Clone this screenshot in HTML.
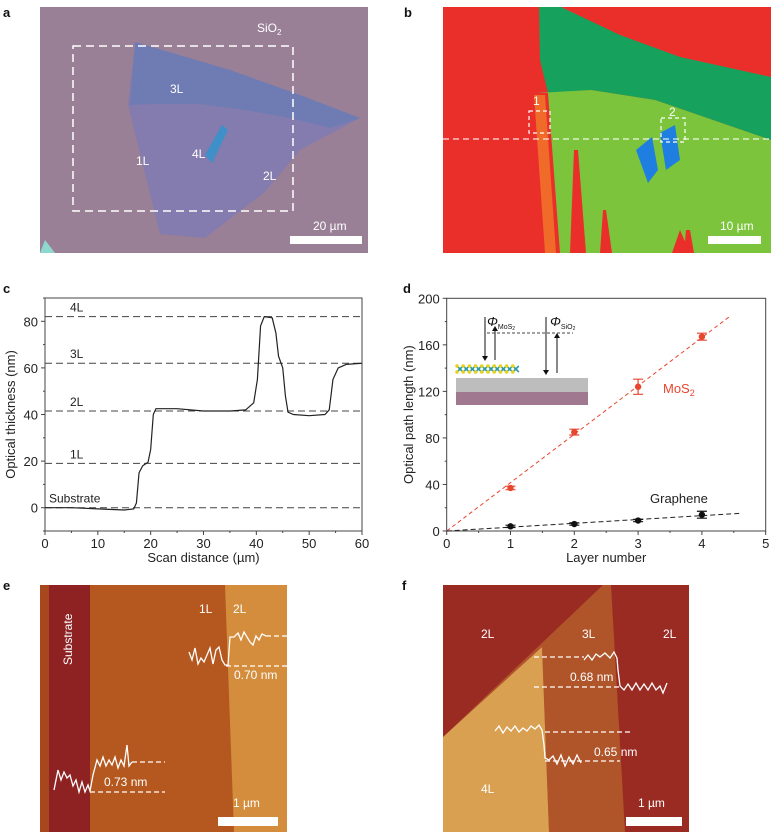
<!DOCTYPE html>
<html><head><meta charset="utf-8"><style>
html,body{margin:0;padding:0;background:#fff;}
svg{display:block;font-family:"Liberation Sans",sans-serif;}
</style></head><body>
<svg id="fig" width="771" height="832" viewBox="0 0 771 832" xmlns="http://www.w3.org/2000/svg">
<g font-weight="bold" font-size="13" fill="#111">
<text x="3" y="17">a</text><text x="404" y="17">b</text>
<text x="3" y="293">c</text><text x="403" y="293">d</text>
<text x="3" y="590">e</text><text x="402" y="590">f</text>
</g>

<!-- Panel a -->
<g>
<rect x="40" y="7" width="328" height="246" fill="#9a8096"/>
<polygon points="135,42 128,105 160,234 205,238 265,192 300,150 360,118 300,95 230,70" fill="#847bae"/>
<polygon points="135,42 230,70 300,95 360,118 330,128 290,118 245,110 200,104 155,104 130,105" fill="#6f7cb4"/>
<polygon points="205,155 222,125 228,130 212,163" fill="#3f8fc8"/>
<polygon points="40,253 45,240 55,253" fill="#8fd8d0"/>
<rect x="73" y="46" width="220" height="165" fill="none" stroke="#fff" stroke-width="1.5" stroke-dasharray="8,5"/>
<g fill="#fff" font-size="12">
<text x="257" y="32">SiO<tspan font-size="8" dy="3">2</tspan></text>
<text x="170" y="93">3L</text><text x="136" y="165">1L</text><text x="192" y="158">4L</text><text x="263" y="180">2L</text>
<text x="313" y="230">20 µm</text>
</g>
<rect x="290" y="236" width="72" height="8" fill="#fff"/>
</g>

<!-- Panel b -->
<g>
<rect x="443" y="7" width="328" height="246" fill="#ea2f2a"/>
<polygon points="539,7 561,7 620,35 680,57 771,77 771,140 655,100 591,90 548,93 540,60" fill="#16a25c"/>
<polygon points="537,93 591,90 655,100 771,140 771,253 690,253 680,230 672,253 560,253 548,93" fill="#7cc43c"/>
<polygon points="574,150 578,150 586,253 570,253" fill="#ea2f2a"/>
<polygon points="603,210 606,210 612,253 600,253" fill="#ea2f2a"/>
<polygon points="686,230 690,230 694,253 684,253" fill="#ea2f2a"/>
<polygon points="534,95 545,95 556,253 545,253" fill="#f06a2a"/>
<polygon points="636,150 652,137 658,170 648,183" fill="#1f7fe0"/>
<polygon points="660,133 675,125 680,160 666,170" fill="#1f7fe0"/>
<line x1="443" y1="139" x2="771" y2="139" stroke="#fff" stroke-width="1.2" stroke-dasharray="6,4" opacity="0.85"/>
<rect x="529" y="111" width="21" height="22" fill="none" stroke="#fff" stroke-width="1.2" stroke-dasharray="4,3"/>
<rect x="661" y="118" width="24" height="24" fill="none" stroke="#fff" stroke-width="1.2" stroke-dasharray="4,3"/>
<g fill="#fff" font-size="12"><text x="533" y="105">1</text><text x="669" y="116">2</text><text x="720" y="230">10 µm</text></g>
<rect x="708" y="236" width="53" height="8" fill="#fff"/>
</g>

<g id="chartC"></g>
<g id="chartD"></g>

<!-- Panel e -->
<g>
<rect x="40" y="585" width="247" height="247" fill="#b4581f"/>
<rect x="40" y="585" width="10" height="247" fill="#a8461e"/>
<rect x="49" y="585" width="41" height="247" fill="#8e2222"/>
<polygon points="225,585 287,585 287,832 234,832" fill="#d48d3c"/>
<text transform="translate(72,665) rotate(-90)" fill="#fff" font-size="12">Substrate</text>
<g fill="#fff" font-size="12"><text x="199" y="613">1L</text><text x="233" y="613">2L</text><text x="234" y="679">0.70 nm</text><text x="104" y="786">0.73 nm</text><text x="233" y="807">1 µm</text></g>
<polyline points="189,652 192,660 195,648 198,664 201,658 204,662 207,655 210,648 213,664 216,650 219,647 222,660 225,665 228,665 230,637 234,637 238,633 241,640 244,632 247,637 250,642 253,645 256,636 259,640 262,634 266,636" fill="none" stroke="#fff" stroke-width="1.3"/>
<path d="M266,636 H287 M226,666 H287 M132,762 H165 M90,792 H165" stroke="#fff" stroke-width="1.3" stroke-dasharray="5,3"/>
<polyline points="54,790 58,770 61,780 64,772 67,778 70,775 73,786 76,780 79,792 82,782 85,792 88,785 90,791 93,775 97,760 100,766 103,757 106,766 109,760 112,765 115,757 118,768 121,760 124,766 127,745 129,766 132,762" fill="none" stroke="#fff" stroke-width="1.3"/>
<rect x="218" y="817" width="60" height="9" fill="#fff"/>
</g>

<!-- Panel f -->
<g>
<rect x="443" y="585" width="246" height="247" fill="#9a2b22"/>
<polygon points="603,585 611,585 625,832 549,832 542,647 443,737" fill="#b0542a"/>
<polygon points="443,737 542,647 549,832 443,832" fill="#d9a052"/>
<g fill="#fff" font-size="12"><text x="481" y="638">2L</text><text x="582" y="638">3L</text><text x="663" y="638">2L</text><text x="481" y="793">4L</text><text x="570" y="681">0.68 nm</text><text x="594" y="756">0.65 nm</text><text x="638" y="807">1 µm</text></g>
<polyline points="584,660 588,655 592,660 596,654 600,657 605,653 610,658 614,652 617,658 618,670 620,686 624,690 628,684 632,690 636,683 640,690 644,684 648,690 652,683 656,690 660,686 663,693 667,683" fill="none" stroke="#fff" stroke-width="1.3"/>
<path d="M534,657 H584 M534,687 H622 M545,732 H632 M545,761 H620" stroke="#fff" stroke-width="1.3" stroke-dasharray="5,3"/>
<polyline points="495,731 499,726 503,733 507,727 511,731 515,726 519,732 523,728 527,731 531,726 535,729 539,725 542,730 544,745 545,758 549,760 553,756 557,764 561,755 565,766 569,757 573,764 577,755 581,763" fill="none" stroke="#fff" stroke-width="1.3"/>
<rect x="626" y="817" width="56" height="9" fill="#fff"/>
</g>
</svg>
<script>
// ---------- Panel c data ----------
const cScanX = [0,5,10,15,16.8,17.3,17.8,18.5,19.5,20,20.5,21,25,30,35,38,39.5,40.2,40.8,41.5,43,43.7,44.2,45,45.5,46,47,50,53,53.8,54.5,55.5,57,60];
const cThick = [0,0,-0.5,-1,-0.5,2,15,18,19.5,25,40,42.5,42.5,41.5,41.5,42,45,55,78,82,81.5,75,65,60,48,41,40,39.5,40,42,55,60,61.5,62];
const cRefValues = [0,19,41.5,62,82];
const cRefLabels = ["Substrate","1L","2L","3L","4L"];
const cXTicks = [0,10,20,30,40,50,60];
const cYTicks = [0,20,40,60,80];
// ---------- Panel d data ----------
const dLayers = [1,2,3,4];
const dMoS2 = [37,85,124,167];
const dMoS2Err = [1.5,2.5,6.5,3];
const dGraphene = [4,6,9,14];
const dGrapheneErr = [1,1,1,3];
const dXTicks = [0,1,2,3,4,5];
const dYTicks = [0,40,80,120,160,200];

const NS="http://www.w3.org/2000/svg";
function mk(parent,tag,attrs,text){const e=document.createElementNS(NS,tag);for(const k in attrs)e.setAttribute(k,attrs[k]);if(text!==undefined)e.textContent=text;parent.appendChild(e);return e;}

(function(){
const g=document.getElementById('chartC');
const L=45,R=362,T=298,B=531;
const xs=v=>L+(v-0)*(R-L)/60;
const ys=v=>B-(v+10)*(B-T)/100;
const frame=mk(g,'rect',{x:L,y:T,width:R-L,height:B-T,fill:'none',stroke:'#444','stroke-width':1});


for(let v=0;v<=60;v+=5){const big=v%10===0;mk(g,'line',{x1:xs(v),x2:xs(v),y1:B,y2:B+(big?4:2),stroke:'#444'});}
for(let v=-10;v<=90;v+=10){const big=v%20===0;mk(g,'line',{x1:L,x2:L-(big?4:2),y1:ys(v),y2:ys(v),stroke:'#444'});}
cXTicks.forEach(v=>{const t=mk(g,'text',{x:xs(v),y:B+17,'text-anchor':'middle','font-size':13,fill:'#222'},String(v));});
cYTicks.forEach(v=>{const t=mk(g,'text',{x:L-7,y:ys(v)+5,'text-anchor':'end','font-size':13,fill:'#222'},String(v));});
cRefValues.forEach((v,i)=>{const ln=mk(g,'line',{x1:L,x2:R,y1:ys(v),y2:ys(v),stroke:'#444','stroke-dasharray':'7,4','stroke-width':1});
const t=mk(g,'text',{x:i===0?L+4:L+25,y:ys(v)-5,'font-size':12,fill:'#222'},cRefLabels[i]);});
const pts=cScanX.map((x,i)=>xs(x)+','+ys(cThick[i])).join(' ');
const pl=mk(g,'polyline',{points:pts,fill:'none',stroke:'#222','stroke-width':1.2,'stroke-linejoin':'round'});


const xt=mk(g,'text',{x:(L+R)/2,y:B+31,'text-anchor':'middle','font-size':13,fill:'#222'},'Scan distance (µm)');

const yt=mk(g,'text',{transform:`translate(15,${(T+B)/2}) rotate(-90)`,'text-anchor':'middle','font-size':13,fill:'#222'},'Optical thickness (nm)');

})();

(function(){
const g=document.getElementById('chartD');
const L=446.7,R=765.7,T=298.3,B=531;
const xs=v=>L+v*(R-L)/5;
const ys=v=>B-v*(B-T)/200;
const frame=mk(g,'rect',{x:L,y:T,width:R-L,height:B-T,fill:'none',stroke:'#444','stroke-width':1});


for(let v=0;v<=5.001;v+=0.5){const big=Math.abs(v-Math.round(v))<1e-6;mk(g,'line',{x1:xs(v),x2:xs(v),y1:B,y2:B+(big?4:2),stroke:'#444'});}
for(let v=0;v<=200;v+=20){const big=v%40===0;mk(g,'line',{x1:L,x2:L-(big?4:2),y1:ys(v),y2:ys(v),stroke:'#444'});}
dXTicks.forEach(v=>{const t=mk(g,'text',{x:xs(v),y:B+17,'text-anchor':'middle','font-size':13,fill:'#222'},String(v));});
dYTicks.forEach(v=>{const t=mk(g,'text',{x:L-7,y:ys(v)+5,'text-anchor':'end','font-size':13,fill:'#222'},String(v));});
const sM=dMoS2.reduce((a,v,i)=>a+v*dLayers[i],0)/dLayers.reduce((a,v)=>a+v*v,0);
const sG=dGraphene.reduce((a,v,i)=>a+v*dLayers[i],0)/dLayers.reduce((a,v)=>a+v*v,0);
const fm=mk(g,'line',{x1:xs(0),y1:ys(0),x2:xs(4.45),y2:ys(4.45*sM),stroke:'#e8452f','stroke-dasharray':'4,3','stroke-width':1});

const fg=mk(g,'line',{x1:xs(0),y1:ys(0),x2:xs(4.6),y2:ys(4.6*sG),stroke:'#222','stroke-dasharray':'5,3','stroke-width':1});

function series(vals,errs,color,name){vals.forEach((v,i)=>{const x=xs(dLayers[i]),y=ys(v),e=errs[i]*(B-T)/200;
const eb=mk(g,'path',{d:`M${x},${y-e}V${y+e}M${x-5},${y-e}H${x+5}M${x-5},${y+e}H${x+5}`,stroke:color,'stroke-width':1.2,fill:'none'});

const c=mk(g,'circle',{cx:x,cy:y,r:3.2,fill:color});
});}
series(dMoS2,dMoS2Err,'#e8452f','mos2');
series(dGraphene,dGrapheneErr,'#111','graphene');
const lm=mk(g,'text',{x:663,y:393,'font-size':13,fill:'#e8452f'},'MoS');mk(lm,'tspan',{'font-size':9,dy:3},'2');

const lg=mk(g,'text',{x:650,y:503,'font-size':13,fill:'#222'},'Graphene');

const xt=mk(g,'text',{x:(L+R)/2,y:B+31,'text-anchor':'middle','font-size':13,fill:'#222'},'Layer number');

const yt=mk(g,'text',{transform:`translate(413,${(T+B)/2}) rotate(-90)`,'text-anchor':'middle','font-size':13,fill:'#222'},'Optical path length (nm)');

const ins=mk(g,'g',{});

mk(ins,'rect',{x:456,y:378,width:132,height:14,fill:'#bdbdbd'});
mk(ins,'rect',{x:456,y:392,width:132,height:13,fill:'#a07890'});
for(let i=0;i<10;i++){const x=457+i*6.2;mk(ins,'path',{d:`M${x},366 L${x+6},372 M${x},372 L${x+6},366`,stroke:'#2a9aa8','stroke-width':1.6});mk(ins,'circle',{cx:x,cy:366,r:1.8,fill:'#e6d21c'});mk(ins,'circle',{cx:x,cy:372,r:1.8,fill:'#e6d21c'});}
mk(ins,'path',{d:'M485,317V358M495,360V329M546,317V372M557,373V336',stroke:'#111','stroke-width':1});
mk(ins,'path',{d:'M482,356L485,361L488,356ZM492,331L495,326L498,331ZM543,370L546,375L549,370ZM554,338L557,333L560,338Z',fill:'#111'});
mk(ins,'line',{x1:487,y1:333,x2:573,y2:333,stroke:'#444','stroke-dasharray':'3,2'});
const p1=mk(ins,'text',{x:487,y:326,'font-size':13,'font-style':'italic',fill:'#111'},'Φ');mk(p1,'tspan',{'font-size':7,'font-style':'normal',dy:3},'MoS');mk(p1,'tspan',{'font-size':5,'font-style':'normal',dy:1},'2');
const p2=mk(ins,'text',{x:550,y:326,'font-size':13,'font-style':'italic',fill:'#111'},'Φ');mk(p2,'tspan',{'font-size':7,'font-style':'normal',dy:3},'SiO');mk(p2,'tspan',{'font-size':5,'font-style':'normal',dy:1},'2');
})();
</script>
</body></html>
